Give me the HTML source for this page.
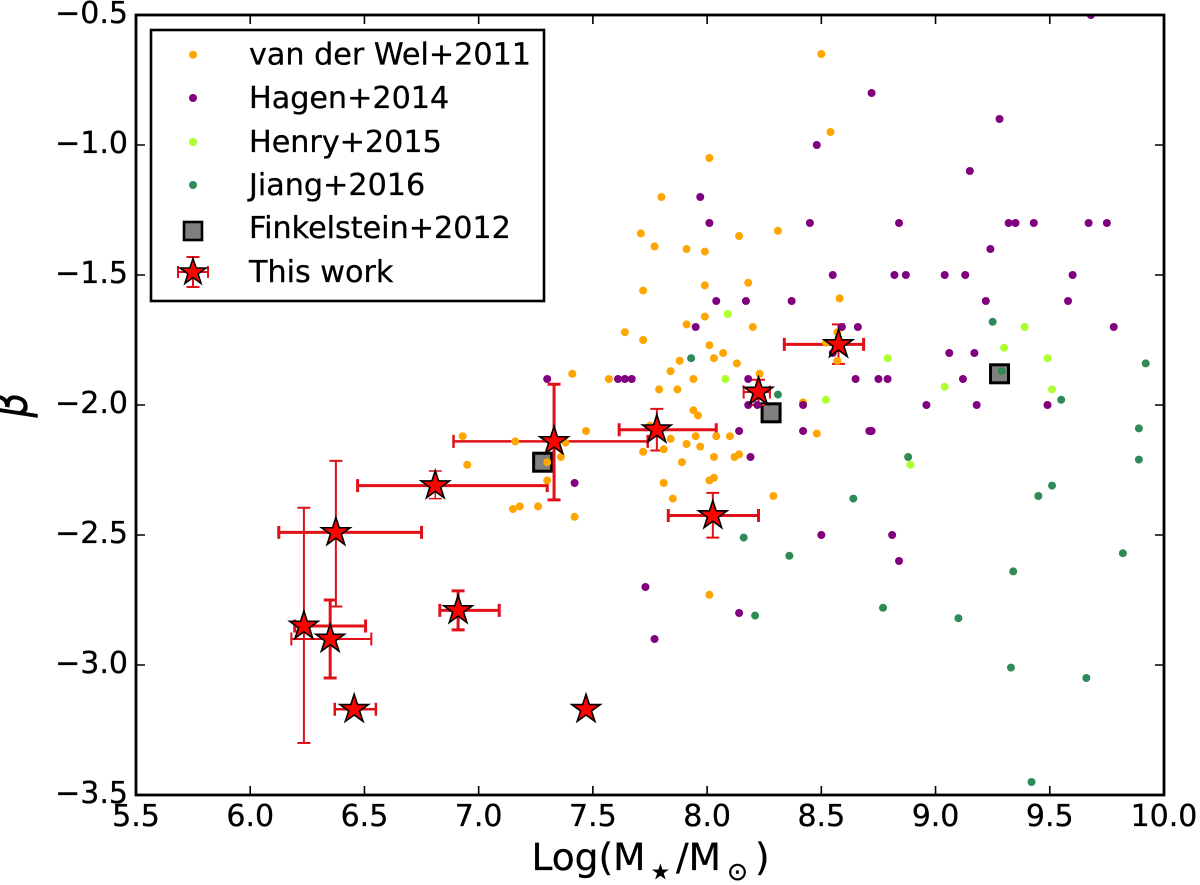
<!DOCTYPE html>
<html lang="en">
<head>
<meta charset="utf-8">
<title>Beta vs stellar mass</title>
<style>
html,body{margin:0;padding:0;background:#fff;width:1200px;height:885px;overflow:hidden}
svg{display:block}
text{font-family:"DejaVu Sans","Liberation Sans",sans-serif;fill:#000;stroke:#000;stroke-width:0.3px}
</style>
</head>
<body>
<svg id="chart" xmlns="http://www.w3.org/2000/svg" width="1200" height="885" viewBox="0 0 1200 885">
  <defs><clipPath id="plot-clip"><rect x="136" y="15" width="1028" height="780"/></clipPath></defs>
  <rect x="0" y="0" width="1200" height="885" fill="#fff"/>
  <g id="marks" clip-path="url(#plot-clip)"></g>
  <g id="axes"></g>
  <text font-size="37.5" y="870"><tspan x="531.500">Log(M</tspan><tspan x="651" y="879" font-size="21">★</tspan><tspan x="676" y="870">/M</tspan><tspan x="727" y="880" font-size="25">⊙</tspan><tspan x="755" y="870">)</tspan></text>
  <text font-size="36" font-style="italic" text-anchor="middle" transform="translate(27,405) rotate(-90) scale(1.1,1.4)">β</text>
  <g>
    <rect x="151" y="30" width="393" height="271" fill="#fff" stroke="#000" stroke-width="2.6"/>
    <g><circle cx="193" cy="54.7" r="4" fill="#ffa500"/><text x="249" y="64.3" font-size="30.2">van der Wel+2011</text></g>
    <g><circle cx="193" cy="98" r="4" fill="#800080"/><text x="249" y="108" font-size="30.2">Hagen+2014</text></g>
    <g><circle cx="193" cy="142" r="4" fill="#adff2f"/><text x="249" y="152" font-size="30.2">Henry+2015</text></g>
    <g><circle cx="193" cy="185" r="4" fill="#2e8b57"/><text x="249" y="195" font-size="30.2">Jiang+2016</text></g>
    <g><rect x="184" y="222" width="18" height="18" fill="#808080" stroke="#000" stroke-width="2.6"/><text x="249" y="238" font-size="30.2">Finkelstein+2012</text></g>
    <g>
      <path d="M193 257V287M186.500 257H199.500M186.500 287H199.500M178 272H208M178 266V278M208 266V278" stroke="#e01018" stroke-width="2" fill="none"/>
      <polygon points="193,258.500 196.200,268 206.200,268 198.100,273.900 201.200,283.500 193,277.600 184.800,283.500 187.900,273.900 179.800,268 189.800,268" fill="#f00" stroke="#000" stroke-width="1.5"/>
      <text x="249" y="282" font-size="30.2">This work</text>
    </g>
  </g>
</svg>
<script>
const xTicks = [5.5, 6.0, 6.5, 7.0, 7.5, 8.0, 8.5, 9.0, 9.5, 10.0];
const yTicks = [-0.5, -1.0, -1.5, -2.0, -2.5, -3.0, -3.5];

const welX = [8.50,8.54,8.01,7.80,7.71,7.77,7.91,7.99,8.14,8.31,7.72,7.99,8.18,8.58,7.99,7.91,8.20,7.64,7.72,8.01,8.07,8.03,8.13,7.88,7.84,7.94,7.41,7.57,7.79,7.87,8.23,8.57,8.57,8.52,8.42,7.94,7.96,7.47,7.84,7.95,8.04,8.10,8.48,7.91,7.97,7.81,7.72,8.03,8.12,8.14,7.89,8.03,8.01,7.81,7.85,8.29,7.42,7.75,6.93,7.16,6.95,7.38,7.36,7.30,7.30,7.15,7.18,7.26,8.01];
const welY = [-0.65,-0.95,-1.05,-1.20,-1.34,-1.39,-1.40,-1.41,-1.35,-1.33,-1.56,-1.54,-1.53,-1.59,-1.66,-1.69,-1.70,-1.72,-1.75,-1.77,-1.80,-1.82,-1.84,-1.83,-1.87,-1.90,-1.88,-1.90,-1.94,-1.94,-1.88,-1.83,-1.72,-1.76,-1.99,-2.02,-2.04,-2.10,-2.13,-2.12,-2.12,-2.12,-2.11,-2.15,-2.16,-2.17,-2.18,-2.20,-2.20,-2.19,-2.22,-2.28,-2.29,-2.30,-2.36,-2.35,-2.43,-2.08,-2.12,-2.14,-2.23,-2.145,-2.20,-2.22,-2.29,-2.40,-2.39,-2.39,-2.73];

const hagenX = [8.72,8.48,7.97,8.01,8.45,8.55,8.04,8.17,8.37,7.95,8.59,8.66,7.61,7.64,7.67,8.18,8.65,8.18,8.22,8.42,8.14,8.42,8.71,8.19,7.42,8.50,8.55,7.30,9.68,9.28,9.15,8.84,9.32,9.35,9.43,9.67,9.75,9.24,8.82,8.87,9.04,9.13,9.60,9.22,9.58,9.78,9.06,9.17,8.75,8.79,9.12,8.96,9.18,9.49,8.72,8.81,8.84,7.73,7.77,8.14];
const hagenY = [-0.80,-1.00,-1.20,-1.30,-1.30,-1.50,-1.60,-1.60,-1.60,-1.70,-1.70,-1.70,-1.90,-1.90,-1.90,-1.90,-1.90,-2.00,-2.00,-2.00,-2.10,-2.10,-2.10,-2.20,-2.30,-2.50,-1.80,-1.90,-0.50,-0.90,-1.10,-1.30,-1.30,-1.30,-1.30,-1.30,-1.30,-1.40,-1.50,-1.50,-1.50,-1.50,-1.50,-1.60,-1.60,-1.70,-1.80,-1.80,-1.90,-1.90,-1.90,-2.00,-2.00,-2.00,-2.10,-2.50,-2.60,-2.70,-2.90,-2.80];

const henryX = [8.09,8.08,8.52,8.79,9.30,9.39,9.49,9.04,9.51,8.89];
const henryY = [-1.65,-1.90,-1.98,-1.82,-1.78,-1.70,-1.82,-1.93,-1.94,-2.23];

const jiangX = [7.93,8.31,8.64,8.16,9.25,9.92,9.29,9.55,9.89,9.89,8.88,9.51,9.45,8.36,9.82,9.34,8.77,8.21,9.10,9.33,9.66,9.42];
const jiangY = [-1.82,-1.96,-2.36,-2.51,-1.68,-1.84,-1.87,-1.98,-2.09,-2.21,-2.20,-2.31,-2.35,-2.58,-2.57,-2.64,-2.78,-2.81,-2.82,-3.01,-3.05,-3.45];

const finkelsteinX = [7.28,8.28,9.28];
const finkelsteinY = [-2.22,-2.03,-1.88];

const workX = [7.33,6.81,6.375,6.235,6.35,6.91,6.455,7.47,7.78,8.025,8.225,8.575];
const workY = [-2.14,-2.31,-2.49,-2.85,-2.90,-2.79,-3.17,-3.17,-2.095,-2.425,-1.95,-1.767];
const workXErrMinus = [0.44,0.34,0.25,0.04,0.17,0.08,0.085,0,0.165,0.195,0.065,0.237];
const workXErrPlus = [0.41,0.49,0.375,0.27,0.18,0.18,0.095,0,0.26,0.2,0.05,0.11];
const workYErrUp = [0.22,0.056,0.275,0.455,0.15,0.075,0,0,0.08,0.087,0.047,0.077];
const workYErrDown = [0.225,0.05,0.285,0.45,0.15,0.075,0,0,0.08,0.085,0.05,0.075];

const horizontalBarWeight = [2.5,3,3,3,2,3,2.5,2,3,3,2,3];
const verticalBarWeight = [3,1.5,2,2,3,3,2,2,2,2,2,2];

const plotLeft = 136, plotRight = 1164, plotTop = 15, plotBottom = 795;
const xMin = 5.5, xMax = 10.0, yMin = -3.5, yMax = -0.5;
function sx(v){ return plotLeft + (v - xMin) / (xMax - xMin) * (plotRight - plotLeft); }
function sy(v){ return plotBottom - (v - yMin) / (yMax - yMin) * (plotBottom - plotTop); }

const NS = 'http://www.w3.org/2000/svg';
const marks = document.getElementById('marks');
const axes = document.getElementById('axes');
function make(tag, parent, attrs){
  const el = document.createElementNS(NS, tag);
  for (const k in attrs) el.setAttribute(k, attrs[k]);
  parent.appendChild(el);
  return el;
}
function starPoints(cx, cy, R){
  const r = R * 0.382, pts = [];
  for (let i = 0; i < 10; i++){
    const a = -Math.PI / 2 + i * Math.PI / 5, q = i % 2 ? r : R;
    pts.push((cx + q * Math.cos(a)).toFixed(2) + ',' + (cy + q * Math.sin(a)).toFixed(2));
  }
  return pts.join(' ');
}

finkelsteinX.forEach(function(v, i){
  const el = make('rect', marks, {x: sx(v) - 9, y: sy(finkelsteinY[i]) - 9, width: 18, height: 18, fill: '#808080', stroke: '#000', 'stroke-width': 3});
  
  
});

workX.forEach(function(v, i){
  const y = workY[i], cap = 6.5, red = '#e01018';
  if (workXErrMinus[i] > 0 || workXErrPlus[i] > 0){
    const x0 = sx(v - workXErrMinus[i]), x1 = sx(v + workXErrPlus[i]), py = sy(y);
    const d = 'M' + x0 + ' ' + py + 'H' + x1 + 'M' + x0 + ' ' + (py - cap) + 'V' + (py + cap) + 'M' + x1 + ' ' + (py - cap) + 'V' + (py + cap);
    const el = make('path', marks, {d: d, stroke: red, 'stroke-width': horizontalBarWeight[i], fill: 'none'});
    
    
  }
  if (workYErrUp[i] > 0 || workYErrDown[i] > 0){
    const y0 = sy(y + workYErrUp[i]), y1 = sy(y - workYErrDown[i]), px = sx(v);
    const d = 'M' + px + ' ' + y0 + 'V' + y1 + 'M' + (px - cap) + ' ' + y0 + 'H' + (px + cap) + 'M' + (px - cap) + ' ' + y1 + 'H' + (px + cap);
    const el = make('path', marks, {d: d, stroke: red, 'stroke-width': verticalBarWeight[i], fill: 'none'});
    
    
  }
});

function drawDots(xs, ys, color, label){
  xs.forEach(function(v, i){
    const el = make('circle', marks, {cx: sx(v), cy: sy(ys[i]), r: 4, fill: color});
    
    
  });
}
drawDots(welX, welY, '#ffa500', 'van-der-wel-point');
drawDots(hagenX, hagenY, '#800080', 'hagen-point');
drawDots(henryX, henryY, '#adff2f', 'henry-point');
drawDots(jiangX, jiangY, '#2e8b57', 'jiang-point');

workX.forEach(function(v, i){
  const el = make('polygon', marks, {points: starPoints(sx(v), sy(workY[i]), 15), fill: '#f00', stroke: '#000', 'stroke-width': 1.6, 'stroke-linejoin': 'miter'});
  
  
});

xTicks.forEach(function(t){
  const px = sx(t);
  const tick = make('path', axes, {d: 'M' + px + ' ' + plotBottom + 'v-9M' + px + ' ' + plotTop + 'v9', stroke: '#000', 'stroke-width': 1.6, fill: 'none'});
  
  
  const label = make('text', axes, {x: px, y: 826, 'font-size': 30, 'text-anchor': 'middle'});
  label.textContent = t.toFixed(1);
  
  
});
yTicks.forEach(function(t){
  const py = sy(t);
  const tick = make('path', axes, {d: 'M' + plotLeft + ' ' + py + 'h9M' + plotRight + ' ' + py + 'h-9', stroke: '#000', 'stroke-width': 1.6, fill: 'none'});
  
  
  const label = make('text', axes, {x: 128, y: py + 8, 'font-size': 30, 'text-anchor': 'end'});
  label.textContent = '\u2212' + Math.abs(t).toFixed(1);
  
  
});
const frame = make('rect', axes, {x: plotLeft, y: plotTop, width: plotRight - plotLeft, height: plotBottom - plotTop, fill: 'none', stroke: '#000', 'stroke-width': 2.8});


</script>
</body>
</html>
